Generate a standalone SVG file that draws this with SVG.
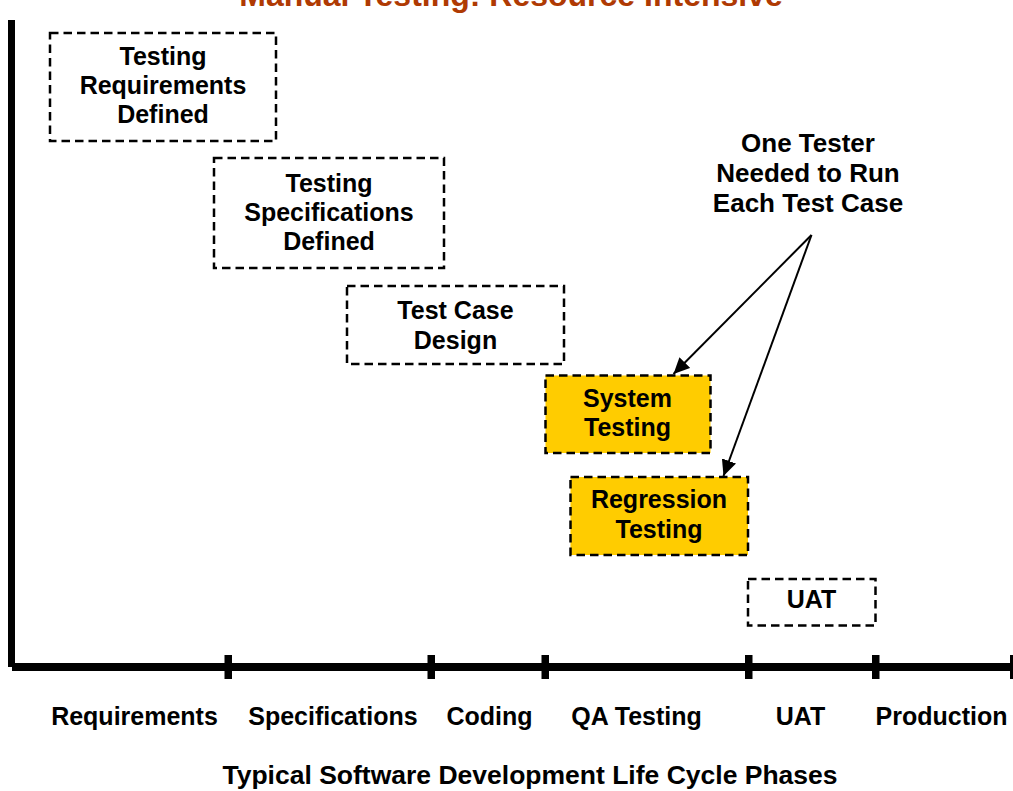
<svg xmlns="http://www.w3.org/2000/svg" width="1013" height="791" viewBox="0 0 1013 791">
  <style>
    .box { fill: #FFFFFF; stroke: #000000; stroke-width: 2.5; stroke-dasharray: 8.5 5; }
    .hot { fill: #FFCC00; }
    .lbl { font-family: "Liberation Sans", Arial, sans-serif; font-weight: bold; font-size: 25px; fill: #000000; text-anchor: middle; }
    .note { font-size: 26px; }
    .axis { fill: #000000; }
    .conn { stroke: #000000; stroke-width: 2; fill: none; }
  </style>
  <defs>
    <marker id="arrow" markerUnits="userSpaceOnUse" markerWidth="17" markerHeight="15" refX="16" refY="7.5" orient="auto">
      <path d="M0,0 L16,7.5 L0,15 Z" fill="#000000"/>
    </marker>
  </defs>

  <rect width="1013" height="791" fill="#FFFFFF"/>

  <!-- title, running off the top edge -->
  <text x="511" y="6" font-family="Liberation Sans, Arial, sans-serif" font-weight="bold" font-size="32" fill="#AF3A03" text-anchor="middle">Manual Testing: Resource Intensive</text>

  <!-- axes -->
  <g id="axes">
    <rect class="axis" x="8" y="20" width="7" height="647"/>
    <rect class="axis" x="12" y="663" width="1001" height="8"/>
    <rect class="axis" x="224.5" y="655" width="7.5" height="24"/>
    <rect class="axis" x="427.5" y="655" width="7.5" height="24"/>
    <rect class="axis" x="541.5" y="655" width="7.5" height="24"/>
    <rect class="axis" x="745" y="655" width="7.5" height="24"/>
    <rect class="axis" x="872" y="655" width="7.5" height="24"/>
    <rect class="axis" x="1010" y="655" width="7.5" height="24"/>
  </g>

  <!-- phases along the axis -->
  <g id="phase-labels">
    <text class="lbl" x="134.5" y="724.5">Requirements</text>
    <text class="lbl" x="333" y="724.5">Specifications</text>
    <text class="lbl" x="489.5" y="724.5">Coding</text>
    <text class="lbl" x="636.5" y="724.5">QA Testing</text>
    <text class="lbl" x="800.5" y="724.5">UAT</text>
    <text class="lbl" x="941.5" y="724.5">Production</text>
  </g>
  <text class="lbl" x="530" y="783.5" style="font-size:26.5px">Typical Software Development Life Cycle Phases</text>

  <!-- activity boxes -->
  <g id="node-req">
    <rect class="box" x="50" y="33" width="226" height="108"/>
    <text class="lbl" x="163" y="65">Testing</text>
    <text class="lbl" x="163" y="94">Requirements</text>
    <text class="lbl" x="163" y="123">Defined</text>
  </g>
  <g id="node-spec">
    <rect class="box" x="214" y="158" width="230" height="110"/>
    <text class="lbl" x="329" y="192">Testing</text>
    <text class="lbl" x="329" y="221">Specifications</text>
    <text class="lbl" x="329" y="250">Defined</text>
  </g>
  <g id="node-design">
    <rect class="box" x="347" y="286" width="217" height="78"/>
    <text class="lbl" x="455.5" y="319">Test Case</text>
    <text class="lbl" x="455.5" y="349">Design</text>
  </g>
  <g id="node-system">
    <rect class="box hot" x="545.5" y="375.5" width="165" height="77.5"/>
    <text class="lbl" x="627.5" y="407">System</text>
    <text class="lbl" x="627.5" y="436">Testing</text>
  </g>
  <g id="node-regression">
    <rect class="box hot" x="570.5" y="477" width="177.5" height="78"/>
    <text class="lbl" x="659" y="508">Regression</text>
    <text class="lbl" x="659" y="538">Testing</text>
  </g>
  <g id="node-uat">
    <rect class="box" x="748" y="579" width="127.5" height="46.5"/>
    <text class="lbl" x="811.5" y="608">UAT</text>
  </g>

  <!-- callout -->
  <g id="node-note">
    <text class="lbl note" x="808" y="151.5">One Tester</text>
    <text class="lbl note" x="808" y="181.5">Needed to Run</text>
    <text class="lbl note" x="808" y="211.5">Each Test Case</text>
  </g>

  <g id="connectors">
    <line class="conn" x1="811.5" y1="235" x2="673.5" y2="374" marker-end="url(#arrow)"/>
    <line class="conn" x1="811.5" y1="235" x2="723.5" y2="476" marker-end="url(#arrow)"/>
  </g>
</svg>
